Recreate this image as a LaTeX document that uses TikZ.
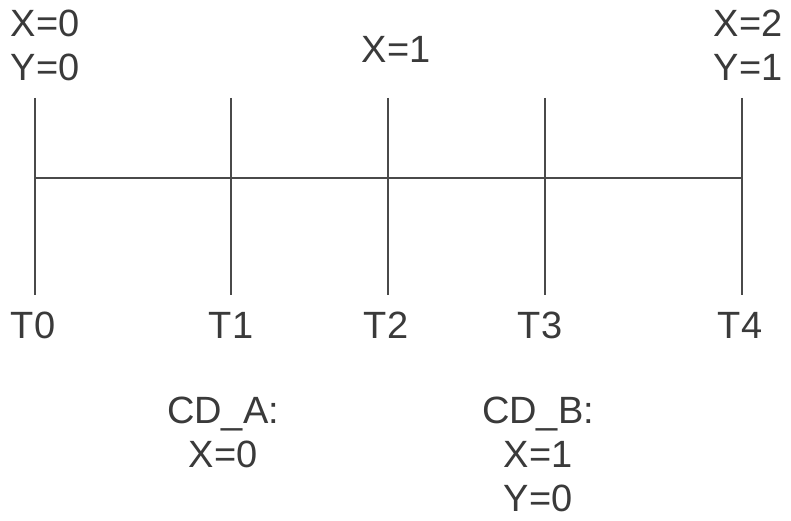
\documentclass[tikz,border=0pt]{standalone}
\usepackage{fontspec}
\setmainfont{Liberation Sans}
\definecolor{ink}{HTML}{3A3A3A}
\definecolor{linec}{HTML}{4A4A4A}
\tikzset{
  lbl/.style={inner sep=0pt, anchor=base, text=ink, font=\fontsize{38}{44}\selectfont, align=center},
  tick/.style={draw=linec, line width=1.4pt},
}
\begin{document}
\begin{tikzpicture}[x=1pt,y=-1pt]
\useasboundingbox (0,0) rectangle (791,521);
% tick coordinates
\foreach \n/\x in {0/35,1/231,2/388,3/545,4/742}{
  \coordinate (t\n) at (\x,98);
  \coordinate (b\n) at (\x,295);
  \coordinate (m\n) at (\x,178);
}
\foreach \n in {0,...,4}{ \draw[tick] (t\n) -- (b\n); }
\draw[tick] (m0) -- (m4);
% labels bottom
\node[lbl] (L0) at (33,338) {T0};
\node[lbl] (L1) at (231,338) {T1};
\node[lbl] (L2) at (386,338) {T2};
\node[lbl] (L3) at (540,338) {T3};
\node[lbl] (L4) at (740,338) {T4};
% top labels
\node[lbl, anchor=north] (top0) at (45,10) {X=0\\Y=0};
\node[lbl] (top2) at (396,63) {X=1};
\node[lbl, anchor=north] (top4) at (748,10) {X=2\\Y=1};
% CD labels
\node[lbl, anchor=north] (cda) at (223,397) {CD\_A:\\X=0};
\node[lbl, anchor=north] (cdb) at (538,397) {CD\_B:\\X=1\\Y=0};
\end{tikzpicture}
\end{document}
